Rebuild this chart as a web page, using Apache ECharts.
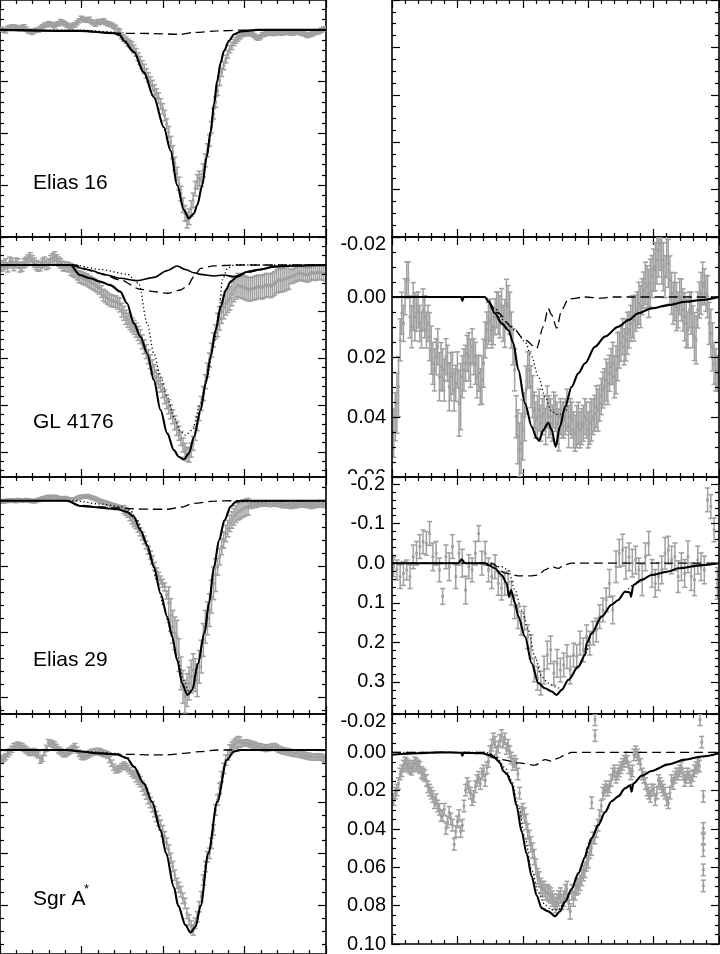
<!DOCTYPE html>
<html><head><meta charset="utf-8">
<script src="https://cdn.jsdelivr.net/npm/echarts@6/dist/echarts.min.js"></script>
<style>html,body{margin:0;padding:0;background:#fff}#c{width:720px;height:954px}</style>
</head><body><div id="c"></div>
<script>
// ---------------- shared x grids ----------------
const leftX = [0.1,0.35,0.6,0.85,1.1,1.35,1.6,1.85,2.1,2.35,2.6,2.85,3.1,3.35,3.6,3.85,4.1,4.35,4.6,4.85,5.1,5.35,5.6,5.85,6.1,6.35,6.6,6.85,7.1,7.35,7.6,7.85,8.1,8.35,8.6,8.85,9.1,9.35,9.6,9.85,10.1,10.35,10.6,10.85,11.1,11.35,11.6,11.85,12.1,12.35,12.6,12.85,13.1,13.35,13.6,13.85,14.1,14.35,14.6,14.85,15.1,15.35,15.6,15.85,16.1,16.35,16.6,16.85,17.1,17.35,17.6,17.85,18.1,18.35,18.6,18.85,19.1,19.35,19.6,19.85];
const leftX2 = [0.225,0.475,0.725,0.975,1.225,1.475,1.725,1.975,2.225,2.475,2.725,2.975,3.225,3.475,3.725,3.975,4.225,4.475,4.725,4.975,5.225,5.475,5.725,5.975,6.225,6.475,6.725,6.975,7.225,7.475,7.725,7.975,8.225,8.475,8.725,8.975,9.225,9.475,9.725,9.975,10.225,10.475,10.725,10.975,11.225,11.475,11.725,11.975,12.225,12.475,12.725,12.975,13.225,13.475,13.725,13.975,14.225,14.475,14.725,14.975,15.225,15.475,15.725,15.975,16.225,16.475,16.725,16.975,17.225,17.475,17.725,17.975,18.225,18.475,18.725,18.975,19.225,19.475,19.725,19.975];
const rightX = [0.125,0.375,0.625,0.875,1.125,1.375,1.625,1.875,2.125,2.375,2.625,2.875,3.125,3.375,3.625,3.875,4.125,4.375,4.625,4.875,5.125,5.375,5.625,5.875,6.125,6.375,6.625,6.875,7.125,7.375,7.625,7.875,8.125,8.375,8.625,8.875,9.125,9.375,9.625,9.875,10.125,10.375,10.625,10.875,11.125,11.375,11.625,11.875,12.125,12.375,12.625,12.875,13.125,13.375,13.625,13.875,14.125,14.375,14.625,14.875,15.125,15.375,15.625,15.875,16.125,16.375,16.625,16.875,17.125,17.375,17.625,17.875,18.125,18.375,18.625,18.875,19.125,19.375,19.625,19.875,20.125,20.375,20.625,20.875,21.125,21.375,21.625,21.875,22.125,22.375,22.625,22.875,23.125,23.375,23.625,23.875,24.125,24.375,24.625,24.875];
const rightX2 = [0.25,0.5,0.75,1,1.25,1.5,1.75,2,2.25,2.5,2.75,3,3.25,3.5,3.75,4,4.25,4.5,4.75,5,5.25,5.5,5.75,6,6.25,6.5,6.75,7,7.25,7.5,7.75,8,8.25,8.5,8.75,9,9.25,9.5,9.75,10,10.25,10.5,10.75,11,11.25,11.5,11.75,12,12.25,12.5,12.75,13,13.25,13.5,13.75,14,14.25,14.5,14.75,15,15.25,15.5,15.75,16,16.25,16.5,16.75,17,17.25,17.5,17.75,18,18.25,18.5,18.75,19,19.25,19.5,19.75,20,20.25,20.5,20.75,21,21.25,21.5,21.75,22,22.25,22.5,22.75,23,23.25,23.5,23.75,24,24.25,24.5,24.75];

// ---------------- tick values ----------------
const leftXMajor = [0,5,10,15,20];
const rightXMajor = [0,5,10,15,20,25];
const p1L_yMajor = [0,0.2,0.4,0.6,0.8];
const p2L_yMajor = [0,0.2,0.4,0.6,0.8];
const p3L_yMajor = [0,0.2,0.4,0.6];
const p4L_yMajor = [0,0.2,0.4,0.6];
const p1R_yMajor = [0,1,2,3,4,5];
const p2R_yMajor = [-0.02,0,0.02,0.04,0.06];
const p3R_yMajor = [-0.2,-0.1,0,0.1,0.2,0.3];
const p4R_yMajor = [-0.02,0,0.02,0.04,0.06,0.08,0.1];

// ---------------- labels ----------------
const panelNames = ['Elias 16','GL 4176','Elias 29','Sgr A'];

// ---------------- Elias 16 (left) ----------------
const p1L_y = [-0.003,0.004,-0.009,-0.012,-0.006,-0.009,-0.003,0.006,0.004,0.001,
-0.012,-0.019,-0.022,-0.015,-0.024,-0.028,-0.019,-0.012,-0.019,-0.035,
-0.041,-0.037,-0.032,-0.022,-0.028,-0.035,-0.024,-0.019,-0.009,0.010,
0.032,0.049,0.062,0.087,0.119,0.151,0.183,0.215,0.247,0.286,
0.331,0.395,0.472,0.555,0.632,0.709,0.722,0.658,0.587,0.581,
0.504,0.427,0.324,0.235,0.164,0.113,0.074,0.049,0.032,0.017,
0.013,0.014,0.023,0.032,0.019,0.014,0.013,0.013,0.010,0.012,
0.009,0.012,0.008,0.010,0.014,0.022,0.017,0.010,0.006,-0.003];
const p1L_y2 = [0.001,-0.006,-0.012,-0.009,-0.005,-0.012,0.004,0.010,0.001,-0.006,
-0.019,-0.024,-0.019,-0.022,-0.032,-0.024,-0.015,-0.017,-0.027,-0.045,
-0.038,-0.041,-0.027,-0.032,-0.032,-0.028,-0.022,-0.014,0.001,0.023,
0.040,0.055,0.074,0.104,0.135,0.168,0.199,0.232,0.263,0.305,
0.363,0.433,0.517,0.594,0.677,0.735,0.690,0.613,0.574,0.542,
0.465,0.376,0.279,0.196,0.138,0.094,0.062,0.040,0.023,0.014,
0.012,0.017,0.029,0.027,0.017,0.012,0.014,0.010,0.013,0.010,
0.010,0.013,0.009,0.012,0.017,0.019,0.013,0.008,0.001,-0.003];
const p1L_err = [0.008,0.008,0.008,0.008,0.008,0.008,0.008,0.008,0.008,0.008,
0.008,0.008,0.008,0.008,0.008,0.008,0.008,0.008,0.008,0.008,
0.008,0.008,0.008,0.008,0.008,0.008,0.008,0.008,0.008,0.012,
0.012,0.014,0.015,0.015,0.016,0.018,0.018,0.020,0.020,0.020,
0.020,0.022,0.025,0.025,0.028,0.030,0.030,0.028,0.028,0.025,
0.025,0.022,0.020,0.018,0.016,0.015,0.014,0.012,0.012,0.010,
0.010,0.008,0.008,0.008,0.008,0.008,0.008,0.008,0.008,0.008,
0.008,0.008,0.008,0.008,0.008,0.008,0.008,0.008,0.008,0.008];
const p1L_solidX = [0,4.92,6.97,7.38,7.59,8.21,8.82,9.44,10.05,10.46,10.87,11.28,11.59,11.90,12.10,12.41,12.68,12.92,13.13,13.33,13.54,13.74,14.05,14.36,14.77,15.79,20];
const p1L_solidY = [0,0.004,0.013,0.02,0.042,0.085,0.164,0.26,0.376,0.465,0.60,0.696,0.728,0.709,0.677,0.60,0.491,0.395,0.286,0.196,0.126,0.081,0.042,0.017,0.006,0,0];
const p1L_dotX = [0,4.92,6.97,7.59,8.21,8.82,9.44,10.05,10.46,10.87,11.28,11.59,11.90,12.10,12.41,12.68,12.92,13.13,13.33,13.54,13.74,14.05,14.36,14.77,15.79,20];
const p1L_dotY = [0,0.001,0.008,0.036,0.085,0.164,0.26,0.376,0.465,0.60,0.696,0.728,0.709,0.677,0.60,0.491,0.395,0.286,0.196,0.126,0.081,0.042,0.017,0.006,0,0];
const p1L_dashX = [0,4.92,6.97,9.23,11.08,11.90,13.33,14.77,20];
const p1L_dashY = [0,0.004,0.013,0.014,0.017,0.010,0.004,0.001,0];

// ---------------- GL 4176 (left) ----------------
const p2L_y = [0.007,-0.007,-0.014,0.004,-0.007,0.007,-0.014,-0.033,-0.010,0.007,
-0.007,0,-0.021,-0.036,-0.014,0.004,0.007,0.019,0.029,0.050,
0.057,0.064,0.076,0.086,0.100,0.129,0.143,0.153,0.157,0.171,
0.207,0.236,0.257,0.279,0.307,0.350,0.393,0.436,0.479,0.514,
0.564,0.607,0.650,0.700,0.743,0.793,0.814,0.764,0.679,0.593,
0.500,0.407,0.321,0.257,0.200,0.164,0.143,0.107,0.086,0.093,
0.100,0.104,0.100,0.093,0.096,0.086,0.090,0.079,0.064,0.064,
0.057,0.050,0.043,0.033,0.039,0.043,0.033,0.036,0.031,0.036];
const p2L_y2 = [0,0.010,-0.007,-0.010,0.010,-0.007,-0.024,-0.021,0,0.004,
-0.014,-0.007,-0.029,-0.024,-0.007,0.007,0.010,0.024,0.039,0.053,
0.061,0.071,0.081,0.093,0.114,0.136,0.150,0.156,0.164,0.193,
0.224,0.247,0.267,0.293,0.329,0.371,0.414,0.457,0.496,0.539,
0.586,0.629,0.676,0.721,0.771,0.810,0.793,0.721,0.636,0.550,
0.450,0.364,0.286,0.229,0.181,0.153,0.124,0.096,0.090,0.096,
0.104,0.101,0.096,0.093,0.090,0.087,0.084,0.071,0.067,0.061,
0.053,0.047,0.039,0.036,0.040,0.039,0.034,0.033,0.034,0.037];
const p2L_err = [0.02,0.02,0.02,0.02,0.02,0.02,0.02,0.02,0.02,0.02,
0.02,0.02,0.02,0.02,0.02,0.02,0.02,0.025,0.025,0.025,
0.025,0.025,0.025,0.025,0.025,0.025,0.025,0.025,0.025,0.03,
0.03,0.03,0.03,0.03,0.03,0.03,0.03,0.03,0.03,0.03,
0.03,0.03,0.03,0.03,0.03,0.03,0.03,0.03,0.03,0.03,
0.03,0.03,0.03,0.05,0.05,0.05,0.05,0.05,0.05,0.05,
0.05,0.05,0.05,0.05,0.05,0.05,0.05,0.05,0.05,0.05,
0.05,0.03,0.03,0.03,0.03,0.03,0.03,0.03,0.03,0.03];
const p2L_solidX = [0,4.31,4.92,5.54,6.15,6.77,7.38,7.79,8.21,8.62,9.03,9.44,9.85,10.26,10.67,10.97,11.28,11.59,11.90,12.31,12.62,12.92,13.23,13.54,13.85,14.15,14.56,15.18,16.0,16.82,17.85,20];
const p2L_solidY = [0,0,0.043,0.057,0.071,0.086,0.114,0.164,0.25,0.307,0.379,0.493,0.621,0.721,0.793,0.821,0.833,0.807,0.736,0.621,0.507,0.393,0.279,0.179,0.107,0.071,0.05,0.029,0.019,0.007,0.003,0];
const p2L_dotX = [0,4.51,6.15,7.79,8.51,9.03,9.44,9.85,10.26,10.67,11.08,11.38,11.79,12.31,12.72,13.13,13.44,13.64,13.95,14.36,20];
const p2L_dotY = [0,0,0.019,0.039,0.079,0.25,0.379,0.479,0.564,0.65,0.714,0.729,0.707,0.593,0.479,0.336,0.193,0.064,0.014,0,0];
const p2L_broadX = [0,4.31,5.33,6.56,7.38,8.41,9.44,10.26,10.87,11.38,11.90,12.31,13.13,13.74,14.36,15.18,16.0,16.82,17.85,20];
const p2L_broadY = [0,0,0.019,0.043,0.057,0.067,0.053,0.024,0.004,0.019,0.033,0.040,0.047,0.043,0.05,0.029,0.019,0.007,0.003,0];
const p2L_dashX = [0,4.51,6.15,7.38,8.62,9.44,10.26,11.08,11.49,11.90,12.31,13.13,14.36,20];
const p2L_dashY = [0,0,0.036,0.064,0.104,0.114,0.121,0.107,0.090,0.050,0.014,0.004,0,0];

// ---------------- Elias 29 (left) ----------------
const p3L_y = [0.003,0.001,0,0,-0.002,0,-0.002,0,0.002,-0.002,
-0.007,-0.010,-0.010,-0.012,-0.008,-0.007,-0.006,-0.002,-0.004,-0.010,
-0.012,-0.014,-0.010,-0.006,0,0.004,0.008,0.012,0.016,0.020,
0.027,0.039,0.059,0.074,0.095,0.120,0.151,0.181,0.217,0.242,
0.263,0.313,0.385,0.415,0.527,0.598,0.558,0.517,0.548,0.476,
0.385,0.334,0.252,0.202,0.140,0.100,0.069,0.049,0.034,0.026,
0.020,0.016,0.013,0.010,0.008,0.008,0.010,0.008,0.010,0.013,
0.013,0.016,0.014,0.012,0.010,0.013,0.016,0.013,0.010,0.013];
const p3L_y2 = [0.002,0,-0.001,0.001,-0.001,-0.001,-0.001,0.001,0,-0.004,
-0.008,-0.012,-0.011,-0.010,-0.006,-0.008,-0.004,-0.003,-0.007,-0.012,
-0.013,-0.012,-0.008,-0.003,0.002,0.006,0.010,0.014,0.018,0.023,
0.033,0.049,0.067,0.084,0.108,0.135,0.166,0.200,0.230,0.252,
0.288,0.349,0.405,0.471,0.568,0.578,0.537,0.532,0.507,0.425,
0.359,0.293,0.227,0.171,0.120,0.085,0.059,0.041,0.031,0.023,
0.018,0.014,0.012,0.009,0.008,0.009,0.009,0.009,0.011,0.013,
0.014,0.015,0.013,0.011,0.012,0.014,0.014,0.012,0.011,0.012];
const p3L_err = [0.005,0.005,0.005,0.005,0.005,0.005,0.005,0.005,0.005,0.005,
0.005,0.005,0.005,0.005,0.005,0.005,0.005,0.005,0.005,0.005,
0.005,0.005,0.005,0.005,0.005,0.005,0.005,0.005,0.005,0.005,
0.012,0.012,0.012,0.012,0.012,0.012,0.012,0.012,0.012,0.012,
0.012,0.05,0.05,0.05,0.05,0.05,0.05,0.05,0.05,0.05,
0.05,0.05,0.05,0.025,0.025,0.025,0.025,0.025,0.025,0.025,
0.025,0.008,0.008,0.008,0.008,0.008,0.008,0.008,0.008,0.008,
0.008,0.008,0.008,0.008,0.008,0.008,0.008,0.008,0.008,0.008];
const p3L_solidX = [0,4.10,4.92,6.15,7.18,7.79,8.21,8.62,9.03,9.44,9.85,10.26,10.56,10.87,11.18,11.49,11.79,12.14,12.55,12.82,13.13,13.44,13.78,14.15,14.46,14.77,20];
const p3L_solidY = [0,0,0.016,0.021,0.026,0.034,0.049,0.090,0.135,0.202,0.283,0.354,0.415,0.487,0.558,0.593,0.578,0.497,0.402,0.313,0.202,0.12,0.059,0.018,0.003,0,0];
const p3L_dotX = [0,4.51,6.15,7.38,8.0,8.41,8.82,9.23,9.64,10.05,10.46,10.87,11.28,11.59,11.86,12.14,12.55,12.82,13.13,13.44,13.78,14.15,14.46,20];
const p3L_dotY = [0,0,0.010,0.018,0.029,0.059,0.110,0.171,0.247,0.324,0.395,0.476,0.548,0.583,0.573,0.497,0.402,0.313,0.202,0.12,0.059,0.018,0.003,0];
const p3L_dashX = [0,4.10,4.92,6.15,7.18,8.21,9.23,10.26,11.08,11.90,13.13,14.36,20];
const p3L_dashY = [0,0,0.014,0.019,0.022,0.025,0.026,0.026,0.020,0.008,0.001,0,0];

// ---------------- Sgr A* (left) ----------------
const p4L_y = [0.039,0.026,0.006,-0.013,-0.019,-0.013,0,0.010,0.006,0.019,
0.032,-0.006,-0.026,-0.019,0,0.013,0.010,0,-0.013,0.013,
0.026,0.019,0.010,0.006,0.006,0.013,0.019,0.051,0.077,0.071,
0.058,0.071,0.090,0.103,0.122,0.154,0.187,0.219,0.257,0.290,
0.335,0.386,0.450,0.515,0.547,0.592,0.656,0.695,0.644,0.566,
0.450,0.399,0.309,0.193,0.103,0.039,0,-0.019,-0.032,-0.026,
-0.028,-0.023,-0.019,-0.013,-0.010,-0.006,-0.010,-0.013,-0.003,0.003,
0.006,0.010,0.013,0.015,0.019,0.023,0.026,0.028,0.026,0.032];
const p4L_y2 = [0.032,0.015,-0.003,-0.015,-0.015,-0.006,0.006,0.008,0.013,0.039,
0.010,-0.028,-0.023,-0.010,0.006,0.015,0.005,-0.006,0,0.023,
0.023,0.015,0.008,0.006,0.010,0.015,0.036,0.067,0.075,0.064,
0.064,0.080,0.097,0.113,0.139,0.170,0.203,0.238,0.273,0.312,
0.360,0.418,0.483,0.530,0.573,0.631,0.680,0.669,0.605,0.502,
0.412,0.360,0.232,0.148,0.071,0.019,-0.010,-0.026,-0.030,-0.027,
-0.026,-0.021,-0.015,-0.012,-0.008,-0.009,-0.012,-0.008,0,0.005,
0.008,0.012,0.014,0.018,0.021,0.025,0.027,0.027,0.028,0.034];
const p4L_err = [0.012,0.012,0.012,0.012,0.012,0.012,0.012,0.012,0.012,0.012,
0.012,0.012,0.012,0.012,0.012,0.012,0.012,0.012,0.012,0.012,
0.012,0.012,0.012,0.012,0.012,0.012,0.012,0.012,0.012,0.012,
0.012,0.012,0.012,0.02,0.02,0.02,0.02,0.02,0.02,0.02,
0.02,0.02,0.02,0.02,0.02,0.02,0.02,0.02,0.02,0.02,
0.02,0.02,0.02,0.02,0.02,0.02,0.02,0.02,0.02,0.012,
0.012,0.012,0.012,0.012,0.012,0.012,0.012,0.012,0.012,0.012,
0.012,0.012,0.012,0.012,0.012,0.012,0.012,0.012,0.012,0.012];
const p4L_solidX = [0,4.10,4.92,6.15,7.18,7.79,8.21,8.82,9.33,9.85,10.19,10.67,10.93,11.38,11.69,12.0,12.31,12.78,13.33,13.91,14.36,14.77,20];
const p4L_solidY = [0,0,0.006,0.013,0.017,0.032,0.064,0.129,0.2,0.31,0.399,0.53,0.601,0.676,0.705,0.682,0.601,0.399,0.2,0.039,0.006,0,0];
const p4L_dotY = [0,0,0.004,0.009,0.013,0.028,0.062,0.129,0.2,0.31,0.399,0.53,0.601,0.676,0.705,0.682,0.601,0.399,0.2,0.039,0.006,0,0];
const p4L_dashX = [0,4.10,6.15,7.18,8.21,9.23,10.26,11.28,12.31,13.33,20];
const p4L_dashY = [0,0,0.013,0.017,0.017,0.019,0.019,0.013,0.006,0,0];

// ---------------- GL 4176 (right) ----------------
const p2R_y = [0.0454,0.0354,0.0143,0.0088,-0.0057,0.0066,0.0032,0.0054,0.0088,0.0043,
0.0110,0.0132,0.0221,0.0199,0.0266,0.0243,0.0199,0.0299,0.0254,0.0288,
0.0354,0.0266,0.0221,0.0199,0.0166,0.0221,0.0254,0.0277,0.0143,0.0088,
0.0110,0.0066,0.0054,0.0032,0.0088,0.0032,0.0110,0.0243,0.0466,0.0488,
0.0399,0.0243,0.0299,0.0377,0.0399,0.0421,0.0388,0.0366,0.0399,0.0377,
0.0421,0.0399,0.0410,0.0377,0.0399,0.0443,0.0432,0.0443,0.0421,0.0410,
0.0421,0.0399,0.0366,0.0354,0.0310,0.0277,0.0254,0.0221,0.0243,0.0177,
0.0132,0.0143,0.0110,0.0066,0.0054,0.0021,-0.0001,-0.0046,-0.0012,-0.0068,
-0.0101,-0.0157,-0.0123,-0.0068,-0.0112,-0.0012,-0.0001,0.0043,0.0010,0.0066,
0.0110,0.0054,0.0132,0.0043,-0.0012,-0.0034,-0.0001,0.0121,0.0221,0.0254];
const p2R_y2 = [0.0399,0.0299,0.0054,-0.0001,-0.0057,0.0099,0.0066,0.0043,0.0110,0.0066,
0.0088,0.0177,0.0243,0.0166,0.0232,0.0277,0.0221,0.0266,0.0310,0.0243,
0.0332,0.0243,0.0188,0.0221,0.0199,0.0266,0.0299,0.0221,0.0110,0.0077,
0.0099,0.0043,0.0066,0.0088,0.0021,0.0054,0.0166,0.0399,0.0510,0.0443,
0.0310,0.0243,0.0332,0.0410,0.0377,0.0399,0.0432,0.0399,0.0421,0.0388,
0.0443,0.0410,0.0399,0.0432,0.0410,0.0454,0.0421,0.0432,0.0399,0.0443,
0.0410,0.0388,0.0377,0.0332,0.0299,0.0288,0.0232,0.0266,0.0199,0.0154,
0.0166,0.0121,0.0088,0.0077,0.0043,0.0032,-0.0023,-0.0034,-0.0046,-0.0090,
-0.0123,-0.0179,-0.0101,-0.0134,-0.0057,0.0021,0.0032,-0.0001,0.0043,0.0088,
0.0043,0.0099,0.0143,0.0010,-0.0046,-0.0012,0.0088,0.0166,0.0243];
const p2R_err = [0.008,0.010,0.007,0.006,0.006,0.007,0.008,0.006,0.006,0.007,
0.006,0.008,0.007,0.006,0.008,0.007,0.006,0.008,0.007,0.006,
0.011,0.007,0.006,0.008,0.006,0.007,0.006,0.008,0.006,0.007,
0.006,0.006,0.007,0.006,0.008,0.007,0.006,0.007,0.009,0.010,
0.008,0.006,0.007,0.006,0.007,0.006,0.006,0.007,0.006,0.006,
0.007,0.006,0.006,0.007,0.006,0.006,0.007,0.006,0.006,0.006,
0.007,0.006,0.007,0.006,0.006,0.007,0.006,0.007,0.008,0.006,
0.006,0.007,0.006,0.007,0.006,0.007,0.006,0.007,0.008,0.007,
0.008,0.009,0.008,0.007,0.008,0.007,0.008,0.006,0.007,0.008,
0.006,0.007,0.008,0.006,0.007,0.006,0.007,0.008,0.007,0.006];
const p2R_solidX = [0,5.28,5.38,5.48,7.11,7.37,7.87,8.38,8.89,9.28,9.66,10.17,10.68,11.06,11.24,11.57,11.95,12.21,12.51,12.84,13.23,13.74,14.25,14.76,15.52,16.28,17.30,18.07,18.83,19.85,21.13,22.40,23.68,25];
const p2R_solidY = [0,0,0.0013,0,0,0.0016,0.0054,0.0088,0.011,0.0154,0.0243,0.0354,0.0432,0.0471,0.0479,0.0443,0.0419,0.0443,0.0499,0.0432,0.0366,0.0299,0.0254,0.0221,0.0166,0.0132,0.0099,0.0077,0.0054,0.0038,0.0027,0.0016,0.001,0];
const p2R_dotX = [0,7.11,7.87,8.64,9.40,10.17,10.68,11.19,11.70,12.21,12.72,13.23,13.74,14.25,14.76,15.52,16.28,17.30,18.07,18.83,19.85,21.13,22.40,23.68,25];
const p2R_dotY = [0,0,0.0038,0.0082,0.011,0.0149,0.0199,0.0266,0.0332,0.0382,0.0393,0.0382,0.0299,0.0254,0.0221,0.0166,0.0132,0.0099,0.0077,0.0054,0.0038,0.0027,0.0016,0.001,0];
const p2R_dashX = [0,7.11,8.13,9.15,10.17,11.06,11.57,11.95,12.21,12.59,12.97,13.48,14.76,16.03,16.79,25];
const p2R_dashY = [0,0,0.0054,0.0099,0.0143,0.0171,0.0099,0.0038,0.006,0.0104,0.0043,0.0007,0,0.0004,0,0];

// ---------------- Elias 29 (right) ----------------
const p3R_y = [0.009,0.017,0.034,0.026,0.017,0.034,-0.016,-0.025,-0.042,-0.054,
-0.050,-0.075,-0.016,-0.025,0.017,0.084,-0.016,0.009,-0.042,0.034,
-0.025,0,0.068,0.009,0.017,-0.025,-0.075,0,-0.025,0.017,
0.034,0.009,0.051,0.063,0.051,0.051,0.076,0.110,0.135,0.152,
0.139,0.186,0.211,0.270,0.291,0.303,0.270,0.232,0.219,0.278,
0.253,0.270,0.257,0.236,0.270,0.232,0.236,0.202,0.219,0.186,
0.202,0.177,0.169,0.135,0.118,0.093,0.051,0.118,0.009,-0.025,
-0.033,0,-0.016,0,-0.008,0.017,0.042,-0.016,-0.050,0.026,
0.051,0.034,0.017,-0.025,-0.033,-0.008,-0.016,0.034,0.009,0.026,
-0.016,0.034,0.042,-0.008,0.009,0.017,-0.160,-0.143,-0.084,0.051];
const p3R_err = [0.025,0.025,0.03,0.03,0.025,0.03,0.03,0.03,0.03,0.03,
0.03,0.03,0.035,0.03,0.03,0.02,0.03,0.035,0.03,0.03,
0.03,0.035,0.035,0.03,0.03,0.03,0.02,0.03,0.03,0.03,
0.03,0.03,0.03,0.03,0.03,0.03,0.03,0.03,0.03,0.03,
0.03,0.03,0.03,0.03,0.03,0.03,0.035,0.035,0.035,0.03,
0.035,0.03,0.03,0.03,0.035,0.03,0.03,0.03,0.03,0.03,
0.03,0.03,0.03,0.03,0.03,0.03,0.035,0.035,0.04,0.035,
0.04,0.04,0.035,0.035,0.035,0.03,0.04,0.035,0.03,0.035,
0.035,0.035,0.035,0.04,0.035,0.035,0.035,0.04,0.035,0.035,
0.04,0.035,0.04,0.035,0.035,0.035,0.03,0.03,0.03,0.04];
const p3R_solidX = [0,5.07,5.33,5.58,7.11,7.37,7.87,8.38,8.77,8.95,9.10,9.40,9.66,10.17,10.68,11.19,11.70,12.21,12.59,12.97,13.48,14.25,14.76,14.88,15.27,16.03,16.79,17.30,17.81,18.20,18.27,18.45,19.09,19.85,21.13,21.89,23.68,25];
const p3R_solidY = [0,0,-0.01,0,0,0.005,0.013,0.03,0.051,0.085,0.068,0.101,0.135,0.186,0.253,0.303,0.316,0.324,0.333,0.320,0.295,0.261,0.232,0.202,0.177,0.135,0.105,0.093,0.072,0.074,0.085,0.055,0.042,0.03,0.021,0.013,0.005,0];
const p3R_dotX = [0,7.11,8.38,8.89,9.40,9.91,10.42,10.93,11.44,11.95,12.46,12.84,12.97,13.48,14.25,14.76,15.27,16.03,16.79,17.30,17.81,18.45,19.09,19.85,21.13,21.89,23.68,25];
const p3R_dotY = [0,0,0.009,0.017,0.068,0.118,0.169,0.236,0.287,0.303,0.312,0.316,0.320,0.295,0.261,0.232,0.177,0.135,0.105,0.093,0.072,0.055,0.042,0.03,0.021,0.013,0.005,0];
const p3R_dashX = [0,7.62,8.64,9.66,10.68,11.19,11.70,12.21,12.72,13.23,13.74,25];
const p3R_dashY = [0,0,0.025,0.032,0.032,0.03,0.017,0.009,0.013,0.004,0,0];

// ---------------- Sgr A* (right) ----------------
const p4R_y = [0.0247,0.0197,0.0113,0.0072,0.0063,0.0080,0.0072,0.0063,0.0080,0.0113,
0.0147,0.0197,0.0230,0.0247,0.0297,0.0330,0.0397,0.0313,0.0380,0.0413,
0.0330,0.0380,0.0197,0.0180,0.0247,0.0180,0.0130,0.0113,0.0147,0.0047,
-0.0037,-0.0053,-0.0028,-0.0087,-0.0070,-0.0037,0.0030,0.0047,0.0113,0.0313,
0.0330,0.0413,0.0480,0.0547,0.0647,0.0697,0.0713,0.0730,0.0747,0.0780,
0.0780,0.0747,0.0763,0.0713,0.0830,0.0763,0.0705,0.0680,0.0630,0.0580,
0.0513,0.0447,0.0413,0.0330,0.0213,0.0180,0.0180,0.0113,0.0130,0.0097,
0.0063,0.0030,0.0080,0.0097,-0.0003,0.0030,0.0113,0.0163,0.0213,0.0197,
0.0247,0.0147,0.0180,0.0213,0.0263,0.0147,0.0130,0.0113,0.0080,0.0147,
0.0113,0.0147,0.0097,0.0063];
const p4R_y2 = [0.0213,0.0163,0.0097,0.0055,0.0072,0.0088,0.0055,0.0072,0.0105,0.0122,
0.0180,0.0213,0.0263,0.0280,0.0330,0.0297,0.0363,0.0347,0.0480,0.0363,
0.0413,0.0280,0.0163,0.0213,0.0230,0.0147,0.0163,0.0097,0.0080,-0.0003,
-0.0070,-0.0003,-0.0062,-0.0053,-0.0020,-0.0003,0.0063,0.0063,0.0213,0.0297,
0.0363,0.0447,0.0513,0.0597,0.0663,0.0713,0.0730,0.0738,0.0763,0.0797,
0.0763,0.0780,0.0730,0.0780,0.0730,0.0730,0.0697,0.0655,0.0613,0.0563,
0.0497,0.0447,0.0380,0.0280,0.0197,0.0197,0.0147,0.0097,0.0113,0.0080,
0.0047,0.0047,0.0113,0.0013,0.0013,0.0063,0.0130,0.0197,0.0230,0.0197,
0.0213,0.0163,0.0197,0.0247,0.0213,0.0163,0.0113,0.0097,0.0113,0.0130,
0.0130,0.0122,0.0080,0.0072];
const p4R_err = [0.003,0.003,0.003,0.003,0.003,0.003,0.003,0.003,0.003,0.003,
0.003,0.003,0.003,0.003,0.003,0.003,0.003,0.003,0.003,0.003,
0.003,0.003,0.003,0.003,0.003,0.003,0.003,0.003,0.003,0.003,
0.003,0.003,0.003,0.003,0.003,0.003,0.003,0.003,0.003,0.003,
0.004,0.004,0.004,0.004,0.004,0.004,0.004,0.004,0.004,0.004,
0.004,0.004,0.004,0.004,0.004,0.004,0.004,0.004,0.004,0.004,
0.004,0.003,0.003,0.003,0.003,0.003,0.003,0.003,0.003,0.003,
0.003,0.003,0.003,0.003,0.003,0.003,0.003,0.003,0.003,0.003,
0.003,0.003,0.003,0.003,0.003,0.003,0.003,0.003,0.003,0.003,
0.003,0.003,0.003,0.003];
const p4R_extraX = [15.27,15.52,15.52,23.55,23.68,23.8,23.8,23.8,23.8,23.8,23.8];
const p4R_extraY = [0.0263,-0.0087,-0.017,-0.017,-0.0053,0.023,0.0397,0.0447,0.0513,0.0613,0.0697];
const p4R_extraErr = [0.003,0.003,0.003,0.003,0.003,0.003,0.003,0.003,0.003,0.003,0.003];
const p4R_solidX = [0,2.01,3.80,5.28,5.38,5.48,6.86,7.37,7.87,8.26,8.51,8.77,9.15,9.53,9.91,10.30,10.68,11.06,11.44,11.95,12.46,12.84,13.23,13.74,14.25,14.76,14.96,15.27,15.77,16.28,16.79,17.30,17.81,18.20,18.32,18.45,19.09,19.85,21.13,22.40,23.68,25];
const p4R_solidY = [0.0013,0.0005,0,0.0002,0.0017,0.0002,0.0005,0.0013,0.003,0.0055,0.0097,0.0113,0.0163,0.028,0.0413,0.053,0.0647,0.0747,0.0813,0.083,0.0855,0.083,0.078,0.0713,0.063,0.0547,0.0497,0.0447,0.038,0.0313,0.0255,0.023,0.0188,0.0172,0.0205,0.0163,0.0122,0.0097,0.0063,0.0038,0.0022,0.0005];
const p4R_dotX = [0,7.11,7.87,8.64,9.15,9.66,10.17,10.68,11.19,11.70,12.21,12.72,13.23,13.74,14.25,14.76,15.27,15.77,16.28,16.79,17.30,17.81,18.45,19.09,19.85,21.13,22.40,23.68,25];
const p4R_dotY = [0,0,0.0013,0.008,0.0147,0.028,0.0447,0.0613,0.073,0.0797,0.0822,0.0822,0.078,0.0713,0.063,0.0547,0.0447,0.038,0.0313,0.0255,0.023,0.0188,0.0163,0.0122,0.0097,0.0063,0.0038,0.0022,0.0005];
const p4R_dashX = [0,7.11,8.38,9.66,10.93,11.70,12.21,12.72,13.23,13.74,25];
const p4R_dashY = [0,0,0.0038,0.0055,0.0067,0.0038,0.0047,0.003,0.0013,0,0];

// ---------------- layout ----------------
const COLS = [{left:-1,width:327},{left:392,width:327}];
const ROWS = [{top:-1,height:238},{top:237,height:240},{top:477,height:237},{top:714,height:240}];
const FONT = 'Liberation Sans, Arial, Helvetica, sans-serif';
const GRAY = '#a0a0a0';

const panels = [
  {row:0,col:0,xr:[0,20],xMaj:leftXMajor,yr:[-0.1154,0.8],inv:true,yMaj:p1L_yMajor,yStep:0.04,
   err:[[leftX,p1L_y,p1L_err],[leftX2,p1L_y2,p1L_err]],lines:[[p1L_dashX,p1L_dashY,'dash'],[p1L_dotX,p1L_dotY,'dot'],[p1L_solidX,p1L_solidY,'solid']]},
  {row:0,col:1,xr:[0,25],xMaj:rightXMajor,yr:[0,5],inv:false,yMaj:p1R_yMajor,yStep:0.25,err:[],lines:[]},
  {row:1,col:0,xr:[0,20],xMaj:leftXMajor,yr:[-0.12,0.908],inv:true,yMaj:p2L_yMajor,yStep:0.04,
   err:[[leftX,p2L_y,p2L_err],[leftX2,p2L_y2,p2L_err]],lines:[[p2L_dashX,p2L_dashY,'dash'],[p2L_dotX,p2L_dotY,'dot'],[p2L_broadX,p2L_broadY,'thin'],[p2L_solidX,p2L_solidY,'solid']]},
  {row:1,col:1,xr:[0,25],xMaj:rightXMajor,yr:[-0.02,0.06],inv:true,yMaj:p2R_yMajor,yStep:0.005,labels:2,
   err:[[rightX,p2R_y,p2R_err],[rightX2,p2R_y2,p2R_err]],lines:[[p2R_dashX,p2R_dashY,'dash'],[p2R_dotX,p2R_dotY,'dot'],[p2R_solidX,p2R_solidY,'solid']]},
  {row:2,col:0,xr:[0,20],xMaj:leftXMajor,yr:[-0.0724,0.651],inv:true,yMaj:p3L_yMajor,yStep:0.04,
   err:[[leftX,p3L_y,p3L_err],[leftX2,p3L_y2,p3L_err]],lines:[[p3L_dashX,p3L_dashY,'dash'],[p3L_dotX,p3L_dotY,'dot'],[p3L_solidX,p3L_solidY,'solid']]},
  {row:2,col:1,xr:[0,25],xMaj:rightXMajor,yr:[-0.2177,0.381],inv:true,yMaj:p3R_yMajor,yStep:0.02,labels:1,labelBg:true,
   err:[[rightX,p3R_y,p3R_err]],lines:[[p3R_dashX,p3R_dashY,'dash'],[p3R_dotX,p3R_dotY,'dot'],[p3R_solidX,p3R_solidY,'solid']]},
  {row:3,col:0,xr:[0,20],xMaj:leftXMajor,yr:[-0.139,0.7876],inv:true,yMaj:p4L_yMajor,yStep:0.05,
   err:[[leftX,p4L_y,p4L_err],[leftX2,p4L_y2,p4L_err]],lines:[[p4L_dashX,p4L_dashY,'dash'],[p4L_solidX,p4L_dotY,'dot'],[p4L_solidX,p4L_solidY,'solid']]},
  {row:3,col:1,xr:[0,25],xMaj:rightXMajor,yr:[-0.02,0.1],inv:true,yMaj:p4R_yMajor,yStep:0.005,labels:2,
   err:[[rightX,p4R_y,p4R_err],[rightX2,p4R_y2,p4R_err],[p4R_extraX,p4R_extraY,p4R_extraErr]],lines:[[p4R_dashX,p4R_dashY,'dash'],[p4R_dotX,p4R_dotY,'dot'],[p4R_solidX,p4R_solidY,'solid']]}
];

function minorTicks(min, max, step, majors) {
  const out = [];
  const n0 = Math.ceil(min/step - 1e-9), n1 = Math.floor(max/step + 1e-9);
  for (let n = n0; n <= n1; n++) {
    const v = +(n*step).toFixed(6);
    if (!majors.some(m => Math.abs(m - v) < step/10)) out.push(v);
  }
  return out;
}

const LSTYLE = {
  solid:{type:'solid',width:2.1},
  thin:{type:'solid',width:1.6},
  dot:{type:[1.2,2.6],width:1.3},
  dash:{type:[9,5],width:1.3}
};

const grid=[], xAxis=[], yAxis=[], series=[];
panels.forEach((p,i)=>{
  const c=COLS[p.col], r=ROWS[p.row];
  grid.push({left:c.left,top:r.top,width:c.width,height:r.height,containLabel:false,show:false});
  const xMinor = minorTicks(p.xr[0],p.xr[1],1,p.xMaj);
  const yMinor = minorTicks(p.yr[0],p.yr[1],p.yStep,p.yMaj);
  const line = (show)=>({show:show,onZero:false,lineStyle:{color:'#000',width:1.6}});
  const tick = (vals,len)=>({show:true,inside:true,length:len,customValues:vals,lineStyle:{color:'#000',width:1.2}});
  const xa = (pos,vals,len,show)=>({type:'value',gridIndex:i,position:pos,min:p.xr[0],max:p.xr[1],
     axisLine:line(show),axisTick:tick(vals,len),axisLabel:{show:false},splitLine:{show:false},silent:true});
  xAxis.push(xa('bottom',p.xMaj,8,true),xa('bottom',xMinor,4,false),xa('top',p.xMaj,8,true),xa('top',xMinor,4,false));
  let label = {show:false};
  if (p.labels) {
    const top = p.yMaj[0];
    label = {show:true,customValues:p.yMaj,margin:6,fontSize:20,fontFamily:FONT,color:'#000',
      showMinLabel:true,showMaxLabel:true,
      formatter:(v)=>{const s=(+v).toFixed(p.labels); return (Math.abs(v-top)<1e-9 && p.labels===2)?'{t|'+s+'}':s;},
      rich:{t:{padding:[14,0,0,0],fontSize:20,fontFamily:FONT,color:'#000'}}};
    if (p.labelBg) { label.backgroundColor='#fff'; label.padding=[0,1,0,10]; }
  }
  const ya = (pos,vals,len,show,lab)=>({type:'value',gridIndex:i,position:pos,min:p.yr[0],max:p.yr[1],inverse:p.inv,
     axisLine:line(show),axisTick:tick(vals,len),axisLabel:lab||{show:false},splitLine:{show:false},silent:true,z:p.row+1});
  yAxis.push(ya('left',p.yMaj,8,true,label),ya('left',yMinor,4,false),ya('right',p.yMaj,8,true),ya('right',yMinor,4,false));
  p.err.forEach(([xs,ys,es])=>{
    series.push({type:'custom',xAxisIndex:4*i,yAxisIndex:4*i,clip:true,silent:true,z:2,
      data:ys.map((y,k)=>[xs[k],y,es[k]]),
      renderItem:(params,api)=>{
        const x=api.value(0), y=api.value(1), e=api.value(2);
        const a=api.coord([x,y-e]), b=api.coord([x,y+e]), m=api.coord([x,y]);
        const st={stroke:GRAY,lineWidth:1.5};
        return {type:'group',children:[
          {type:'line',shape:{x1:a[0],y1:a[1],x2:b[0],y2:b[1]},style:st},
          {type:'line',shape:{x1:a[0]-2.6,y1:a[1],x2:a[0]+2.6,y2:a[1]},style:st},
          {type:'line',shape:{x1:b[0]-2.6,y1:b[1],x2:b[0]+2.6,y2:b[1]},style:st},
          {type:'rect',shape:{x:m[0]-1.4,y:m[1]-1.4,width:2.8,height:2.8},style:{fill:GRAY}}
        ]};
      }});
  });
  p.lines.forEach(([xs,ys,kind])=>{
    series.push({type:'line',xAxisIndex:4*i,yAxisIndex:4*i,data:ys.map((y,k)=>[xs[k],y]),
      showSymbol:false,symbol:'none',smooth:0.3,smoothMonotone:'x',silent:true,z:kind==='solid'?4:3,
      lineStyle:Object.assign({color:'#000'},LSTYLE[kind])});
  });
});

const titleTops = [173,412,650,889];
const title = panelNames.map((t,k)=>({text:t,left:33,top:titleTops[k],padding:0,
  textStyle:{fontSize:21,fontWeight:'normal',fontFamily:FONT,color:'#000'}}));
title.push({text:'*',left:84,top:883,padding:0,textStyle:{fontSize:13,fontWeight:'normal',fontFamily:FONT,color:'#000'}});

const chart = echarts.init(document.getElementById('c'),null,{renderer:'canvas'});
chart.setOption({animation:false,backgroundColor:'#fff',title,grid,xAxis,yAxis,series});
</script></body></html>
